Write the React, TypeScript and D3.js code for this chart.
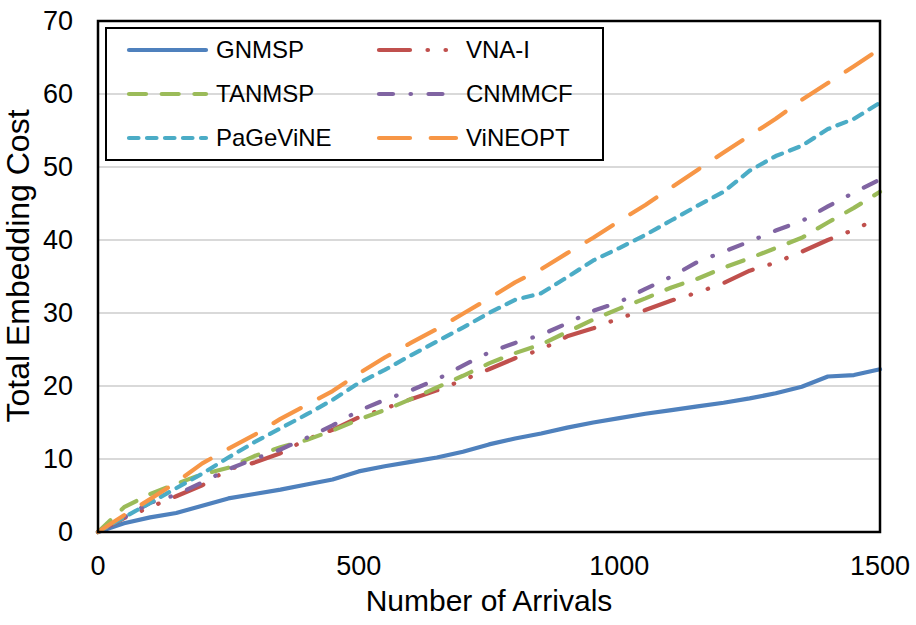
import React from 'react'
import * as d3 from 'd3'

const arrivals = [
  0, 50, 100, 150, 200, 250, 300, 350, 400, 450, 500, 550, 600, 650, 700, 750,
  800, 850, 900, 950, 1000, 1050, 1100, 1150, 1200, 1250, 1300, 1350, 1400,
  1450, 1500,
]

const gnmsp = [
  0, 1.2, 2.0, 2.6, 3.6, 4.6, 5.2, 5.8, 6.5, 7.2, 8.3, 9.0, 9.6, 10.2, 11.0,
  12.0, 12.8, 13.5, 14.3, 15.0, 15.6, 16.2, 16.7, 17.2, 17.7, 18.3, 19.0, 19.9,
  21.3, 21.5, 22.3,
]
const vnaI = [
  0, 1.9, 3.4, 4.9, 6.4, 8.6, 9.5, 10.8, 12.7, 14.0, 15.7, 16.9, 18.2, 19.4,
  20.8, 22.3, 23.8, 25.0, 26.8, 27.9, 29.3, 30.4, 31.7, 32.8, 34.1, 35.8, 36.9,
  38.4, 40.0, 41.4, 43.1,
]
const tanmsp = [
  0, 3.4, 5.2, 6.6, 7.9, 8.8, 10.4, 11.6, 12.6, 13.9, 15.4, 16.7, 18.2, 19.8,
  21.4, 23.1, 24.5, 25.7, 27.4, 29.1, 30.6, 32.0, 33.5, 34.7, 36.2, 37.5, 38.9,
  40.3, 42.4, 44.4, 46.6,
]
const cnmmcf = [
  0, 2.0, 4.0, 5.1, 6.8, 8.6, 10.0, 11.3, 12.9, 14.6, 16.6, 18.1, 19.4, 20.9,
  22.8, 24.6, 25.9, 27.0, 28.6, 30.3, 31.5, 33.3, 35.0, 37.0, 38.4, 39.8, 41.3,
  42.6, 44.6, 46.5, 48.3,
]
const pagevine = [
  0, 2.0, 4.0, 6.0, 8.0, 10.2, 12.3, 14.2, 16.1, 18.1, 20.4, 22.2, 24.2, 26.1,
  28.0, 30.0, 31.8, 32.7, 34.9, 37.2, 38.9, 40.7, 42.7, 44.7, 46.6, 49.5, 51.5,
  52.9, 55.2, 56.6, 58.8,
]
const vineopt = [
  0, 2.3, 4.5, 6.8, 9.4, 11.4, 13.3, 15.5, 17.4, 19.3, 21.7, 23.9, 25.9, 27.8,
  29.9, 32.0, 34.2, 36.0, 38.2, 40.3, 42.6, 44.8, 47.2, 49.6, 52.0, 54.3, 56.6,
  59.2, 61.5, 63.8, 66.2,
]

const xTicks = [0, 500, 1000, 1500]
const yTicks = [0, 10, 20, 30, 40, 50, 60, 70]

type Series = { name: string; values: number[]; color: string; dash?: string }

const series: Series[] = [
  { name: 'GNMSP', values: gnmsp, color: '#4f81bd' },
  { name: 'VNA-I', values: vnaI, color: '#c0504d', dash: '31,17.5,0.5,17.5,0.5,17.5' },
  { name: 'TANMSP', values: tanmsp, color: '#9bbb59', dash: '17,15.7' },
  { name: 'CNMMCF', values: cnmmcf, color: '#8064a2', dash: '14,17.5,0.5,17.5' },
  { name: 'PaGeViNE', values: pagevine, color: '#4bacc6', dash: '9.5,8.5' },
  { name: 'ViNEOPT', values: vineopt, color: '#f79646', dash: '31,20.7' },
]

// legend order: two columns, filled top to bottom
const legendCols = [
  ['GNMSP', 'TANMSP', 'PaGeViNE'],
  ['VNA-I', 'CNMMCF', 'ViNEOPT'],
]

const font = '"Liberation Sans", Arial, sans-serif'

const App = () => {
  const width = 916
  const height = 625
  const plot = { left: 98, right: 880, top: 21, bottom: 532 }
  const lineW = 4.2

  const xScale = d3.scaleLinear().domain([0, 1500]).range([plot.left, plot.right])
  const yScale = d3.scaleLinear().domain([0, 70]).range([plot.bottom, plot.top])

  const line = d3
    .line<number>()
    .x((_, i) => xScale(arrivals[i]))
    .y(d => yScale(d))

  const byName = (n: string) => series.find(s => s.name === n)!

  return (
    <svg
      width={width}
      height={height}
      style={{ position: 'absolute', left: 0, top: 0, background: '#fff' }}
      fontFamily={font}
    >
      {/* gridlines */}
      {yTicks.slice(1, -1).map(t => (
        <line
          key={t}
          x1={plot.left}
          x2={plot.right}
          y1={yScale(t)}
          y2={yScale(t)}
          stroke="#d9d9d9"
          strokeWidth={2}
        />
      ))}

      {/* series */}
      {series.map(s => (
        <path
          key={s.name}
          d={line(s.values) || ''}
          fill="none"
          stroke={s.color}
          strokeWidth={lineW}
          strokeDasharray={s.dash}
          strokeLinecap="round"
          strokeLinejoin="round"
        />
      ))}

      {/* plot border */}
      <rect
        x={plot.left}
        y={plot.top}
        width={plot.right - plot.left}
        height={plot.bottom - plot.top}
        fill="none"
        stroke="#000"
        strokeWidth={2.5}
      />

      {/* y ticks */}
      {yTicks.map(t => (
        <text
          key={t}
          x={73}
          y={yScale(t)}
          dy="0.35em"
          textAnchor="end"
          fontSize={27}
          fill="#000"
        >
          {t}
        </text>
      ))}

      {/* x ticks */}
      {xTicks.map(t => (
        <text
          key={t}
          x={xScale(t)}
          y={575}
          textAnchor="middle"
          fontSize={27}
          fill="#000"
        >
          {t}
        </text>
      ))}

      <text
        x={(plot.left + plot.right) / 2}
        y={611}
        textAnchor="middle"
        fontSize={30}
        fill="#000"
      >
        Number of Arrivals
      </text>
      <text
        transform="translate(29, 266) rotate(-90)"
        textAnchor="middle"
        fontSize={32}
        fill="#000"
      >
        Total Embedding Cost
      </text>

      {/* legend */}
      <rect x={106} y={28} width={497} height={132} fill="none" stroke="#000" strokeWidth={2} />
      {legendCols.map((col, ci) =>
        col.map((name, ri) => {
          const s = byName(name)
          const lx = ci === 0 ? 129 : 379
          const cy = 50 + ri * 44
          return (
            <g key={name}>
              <line
                x1={lx}
                x2={lx + 77}
                y1={cy}
                y2={cy}
                stroke={s.color}
                strokeWidth={lineW}
                strokeDasharray={s.dash}
                strokeLinecap="round"
              />
              <text x={lx + 87} y={cy} dy="0.35em" fontSize={24} fill="#000">
                {name}
              </text>
            </g>
          )
        })
      )}
    </svg>
  )
}

export default App
